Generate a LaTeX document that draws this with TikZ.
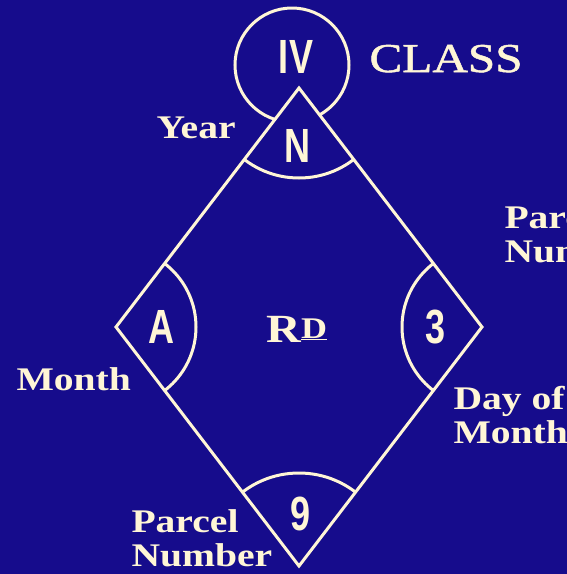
\documentclass[tikz,border=0pt]{standalone}
\usepackage{fontspec}
\usepackage{graphicx}
\setmainfont{Liberation Serif}
\newfontfamily\widefont[FakeStretch=1.2]{Liberation Serif}
\newfontfamily\classfont[FakeStretch=1.2,FakeBold=1.2]{Liberation Serif}
\newfontfamily\narrowfont[FakeStretch=0.75]{Liberation Sans}
\definecolor{bg}{RGB}{22,12,140}
\definecolor{ink}{RGB}{255,246,214}
\begin{document}
\begin{tikzpicture}[x=1pt,y=-1pt,line width=3pt,
  lbl/.style={text=ink,inner sep=0pt,anchor=base west,align=left,
    font=\widefont\bfseries\fontsize{33}{34}\selectfont},
  code/.style={text=ink,inner sep=0pt,anchor=base,
    font=\narrowfont\bfseries\fontsize{48}{48}\selectfont}]
\fill[bg] (0,0) rectangle (567,574);
\useasboundingbox (0,0) rectangle (567,574);
\coordinate (T) at (299,88);
\coordinate (L) at (116,327);
\coordinate (R) at (482,327);
\coordinate (B) at (299,566);
\coordinate (C) at (292,65);
% class circle
\draw[ink] (C) circle[radius=57];
\fill[bg] (T)--(R)--(B)--(L)--cycle;
\begin{scope}
  \clip (T)--(R)--(B)--(L)--cycle;
  \draw[ink] (T) circle[radius=90];
  \draw[ink] (L) circle[radius=80];
  \draw[ink] (R) circle[radius=80];
  \draw[ink] (B) circle[radius=93];
\end{scope}
\draw[ink,line join=miter] (T)--(R)--(B)--(L)--cycle;
% codes
\node[code] (iv) at (296,73) {IV};
\node[code] (n) at (297,162) {N};
\node[code] (a) at (161,343) {A};
\node[code] (three) at (436,343) {3};
\node[code] (nine) at (301,530) {9};
% center
\node[text=ink,inner sep=0pt,anchor=base west,font=\widefont\bfseries] (rd) at (265,342)
  {{\fontsize{40}{40}\selectfont R}{\fontsize{30}{30}\selectfont\raisebox{4pt}{\underline{D}}}};
% labels
\node[text=ink,inner sep=0pt,anchor=base west,font=\classfont\fontsize{41}{41}\selectfont] (class) at (368,72) {CLASS};
\node[lbl] (year) at (155,138) {Year};
\node[lbl] (month) at (15,390) {Month};
\node[lbl] (pnr) at (503,262) {Parcel\\Number};
\node[lbl] (dom) at (452,443) {Day of\\Month};
\node[lbl] (pnb) at (130,566) {Parcel\\Number};
\end{tikzpicture}
\end{document}
